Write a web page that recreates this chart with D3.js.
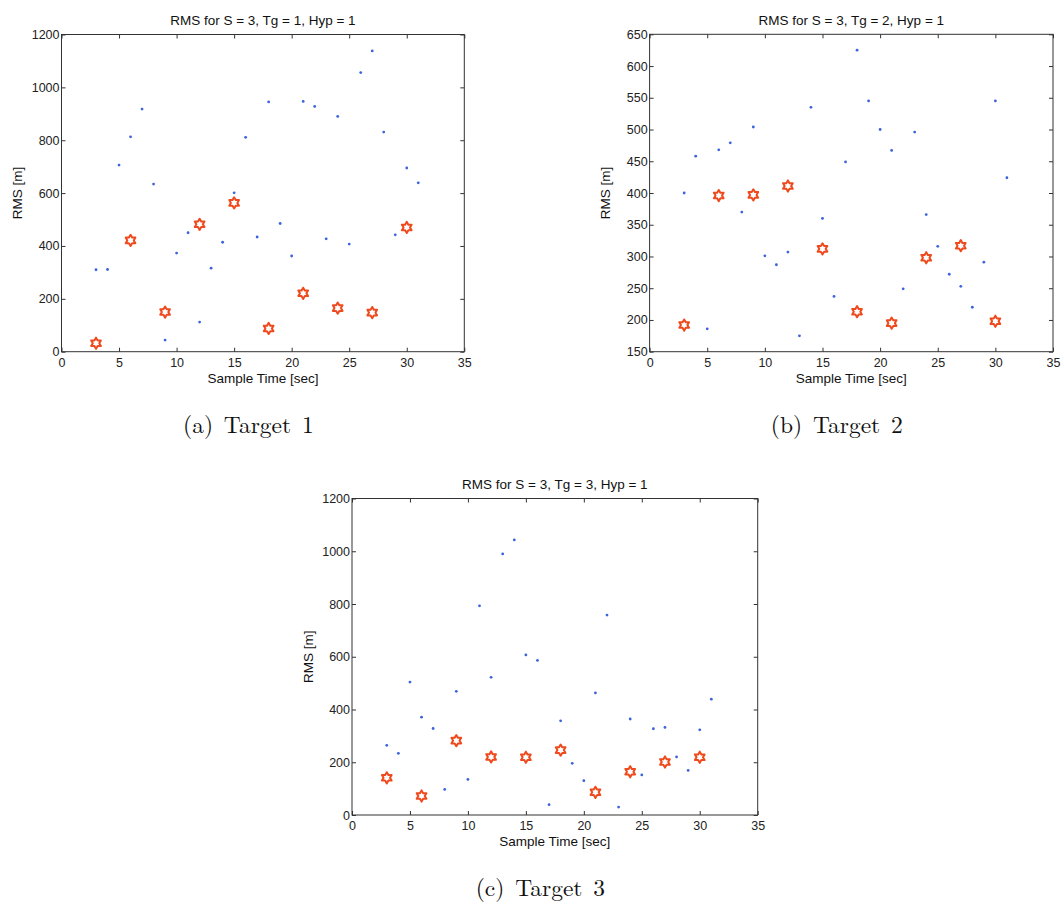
<!DOCTYPE html>
<html lang="en">
<head>
<meta charset="UTF-8">
<title>RMS per target</title>
<script src="https://d3js.org/d3.v7.min.js"></script>
<style>
  body { margin: 0; background: #fff; }
  svg { display: block; }
  .tick-label { font-family: 'Liberation Sans', Arial, sans-serif; font-size: 12.5px; fill: #222; }
  .ptitle, .axis-label { font-family: 'Liberation Sans', Arial, sans-serif; font-size: 13.5px; fill: #111; }
  .caption { font-family: 'Latin Modern Roman', 'DejaVu Serif', 'Liberation Serif', serif; font-size: 23.5px; fill: #111; word-spacing: 3px; }
</style>
</head>
<body>
<svg id="fig" width="1061" height="902"></svg>
<script>
// sample times (s)
const sampleTimes = d3.range(3, 32);          // blue dots, 3..31
const hypTimes = [3, 6, 9, 12, 15, 18, 21, 24, 27, 30]; // red hexagrams
const xTicks = [0, 5, 10, 15, 20, 25, 30, 35];

// Target 1
const t1Rms = [310, 311, 706, 813, 918, 634, 44, 373, 450, 112, 316, 414, 601,
               811, 434, 945, 485, 362, 947, 928, 427, 890, 407, 1056, 1138, 831, 442, 695, 639];
const t1Hyp = [32, 421, 150, 482, 563, 88, 221, 165, 148, 470];
const t1Ticks = [0, 200, 400, 600, 800, 1000, 1200];

// Target 2
const t2Rms = [400, 458, 186, 468, 479, 370, 504, 301, 287, 307, 175, 535, 360,
               237, 449, 625, 545, 500, 467, 249, 496, 366, 316, 272, 253, 220, 291, 545, 424];
const t2Hyp = [192, 396, 397, 411, 312, 213, 195, 298, 317, 198];
const t2Ticks = [150, 200, 250, 300, 350, 400, 450, 500, 550, 600, 650];

// Target 3
const t3Rms = [264, 234, 504, 371, 328, 97, 469, 135, 793, 522, 990, 1043, 607,
               586, 39, 357, 196, 130, 463, 758, 30, 364, 152, 327, 332, 220, 169, 323, 439];
const t3Hyp = [141, 72, 282, 220, 219, 246, 86, 164, 201, 219];
const t3Ticks = [0, 200, 400, 600, 800, 1000, 1200];

const panels = [
  { title: 'RMS for S = 3, Tg = 1, Hyp = 1', caption: '(a) Target 1', rms: t1Rms, hyp: t1Hyp, yTicks: t1Ticks,
    left: 61.5, right: 464.3, top: 34.5, bottom: 351.7 },
  { title: 'RMS for S = 3, Tg = 2, Hyp = 1', caption: '(b) Target 2', rms: t2Rms, hyp: t2Hyp, yTicks: t2Ticks,
    left: 649.6, right: 1053, top: 34.3, bottom: 351.7 },
  { title: 'RMS for S = 3, Tg = 3, Hyp = 1', caption: '(c) Target 3', rms: t3Rms, hyp: t3Hyp, yTicks: t3Ticks,
    left: 352, right: 757.7, top: 498.5, bottom: 815 }
];

const svg = d3.select('#fig');
const tickLen = 4;
const blue = '#3b63db';
const red = '#ef4a1d';
const fmt = d3.format('d');

// hexagram outline like matlab 'h'
function hexagram(r) {
  const pts = d3.range(12).map(function(i) {
    const a = -Math.PI / 2 + i * Math.PI / 6;
    const rr = i % 2 === 0 ? r : r / Math.sqrt(3);
    return [rr * Math.cos(a), rr * Math.sin(a)];
  });
  return d3.line()(pts) + 'Z';
}

panels.forEach(function(p) {
  const x = d3.scaleLinear().domain([0, 35]).range([p.left, p.right]);
  const y = d3.scaleLinear().domain(d3.extent(p.yTicks)).range([p.bottom, p.top]);
  const g = svg.append('g');

  // box
  g.append('rect')
    .attr('x', p.left).attr('y', p.top)
    .attr('width', p.right - p.left).attr('height', p.bottom - p.top)
    .attr('fill', 'none').attr('stroke', '#333').attr('stroke-width', 1);

  // axes with inward ticks
  g.append('g').attr('transform', 'translate(0,' + p.bottom + ')')
    .call(d3.axisBottom(x).tickValues(xTicks).tickSize(-tickLen).tickPadding(6).tickFormat(fmt))
    .call(function(s) { s.select('.domain').remove(); });
  g.append('g').attr('transform', 'translate(0,' + p.top + ')')
    .call(d3.axisTop(x).tickValues(xTicks).tickSize(-tickLen).tickFormat(''))
    .call(function(s) { s.select('.domain').remove(); });
  g.append('g').attr('transform', 'translate(' + p.left + ',0)')
    .call(d3.axisLeft(y).tickValues(p.yTicks).tickSize(-tickLen).tickPadding(2).tickFormat(fmt))
    .call(function(s) { s.select('.domain').remove(); });
  g.append('g').attr('transform', 'translate(' + p.right + ',0)')
    .call(d3.axisRight(y).tickValues(p.yTicks).tickSize(-tickLen).tickFormat(''))
    .call(function(s) { s.select('.domain').remove(); });

  g.selectAll('.tick line').attr('stroke', '#333');
  g.selectAll('.tick text').attr('class', 'tick-label').attr('font-size', null).attr('font-family', null);

  // blue sample dots
  g.selectAll('.dot')
    .data(p.rms)
    .enter().append('circle')
    .attr('class', 'dot')
    .attr('cx', function(d, i) { return x(sampleTimes[i]); })
    .attr('cy', function(d) { return y(d); })
    .attr('r', 1.4)
    .attr('fill', blue);

  // red hypothesis markers
  g.selectAll('.hyp')
    .data(p.hyp)
    .enter().append('path')
    .attr('class', 'hyp')
    .attr('transform', function(d, i) { return 'translate(' + x(hypTimes[i]) + ',' + y(d) + ')'; })
    .attr('d', hexagram(5.6))
    .attr('fill', 'none')
    .attr('stroke', red)
    .attr('stroke-width', 2)
    .attr('stroke-linejoin', 'round');

  const cx = (p.left + p.right) / 2;
  const cy = (p.top + p.bottom) / 2;

  g.append('text').attr('class', 'ptitle')
    .attr('x', cx).attr('y', p.top - 9.5)
    .attr('text-anchor', 'middle').text(p.title);

  g.append('text').attr('class', 'axis-label')
    .attr('x', cx).attr('y', p.bottom + 31)
    .attr('text-anchor', 'middle').text('Sample Time [sec]');

  g.append('text').attr('class', 'axis-label')
    .attr('transform', 'translate(' + (p.left - 39.5) + ',' + cy + ') rotate(-90)')
    .attr('text-anchor', 'middle').text('RMS [m]');

  g.append('text').attr('class', 'caption')
    .attr('x', cx - 14.5).attr('y', p.bottom + 81)
    .attr('text-anchor', 'middle')
    .text(p.caption);
});
</script>
</body>
</html>
